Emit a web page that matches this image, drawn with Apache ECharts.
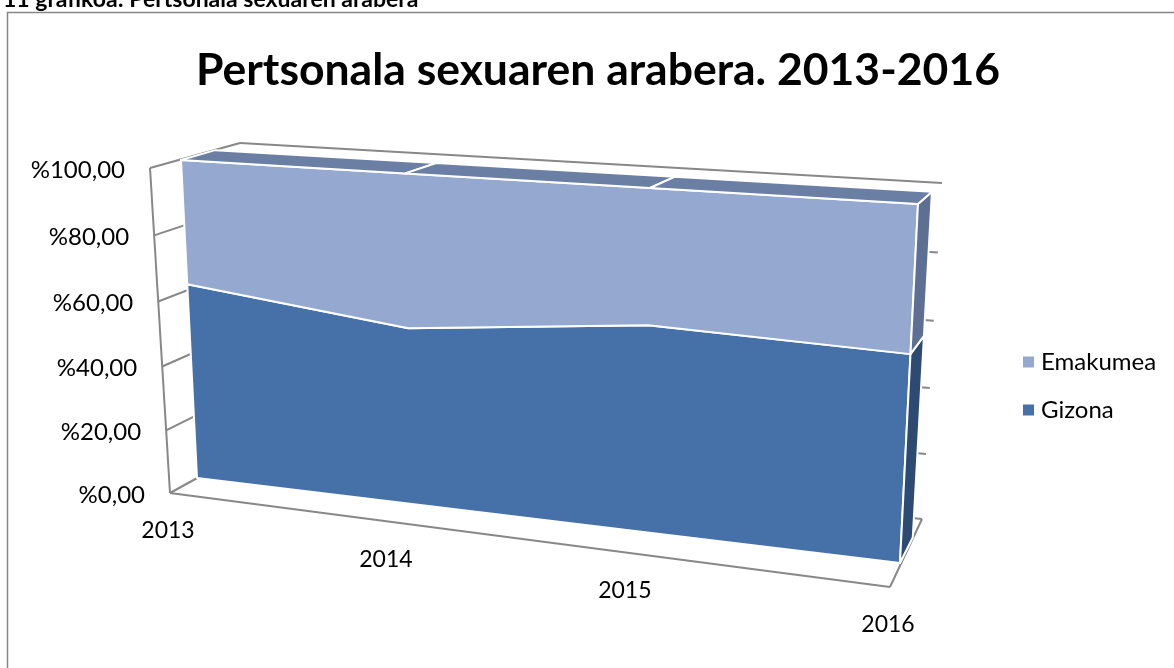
<!DOCTYPE html>
<html>
<head>
<meta charset="utf-8">
<script src="https://cdn.jsdelivr.net/npm/echarts@6/dist/echarts.min.js"></script>
<style>
html, body { margin: 0; padding: 0; background: #fff; }
#main { width: 1174px; height: 668px; }
</style>
</head>
<body>
<div id="main"></div>
<script>
var years = ['2013', '2014', '2015', '2016'];
var gizona = [62.0, 54.3, 61.3, 59.4];
var emakumea = [38.0, 45.7, 38.7, 40.6];
var yTicks = [0, 20, 40, 60, 80, 100];
var yTickLabels = ['%0,00', '%20,00', '%40,00', '%60,00', '%80,00', '%100,00'];

// corners (TL, TR, BR, BL) of the planes of the 3d box, screen px
var wallFront = [[150, 168], [905, 215], [890, 587], [170, 493]];
var faceFront = [[181, 160], [918, 204], [900, 563], [197, 478]];
var wallBack = [[240, 143], [942, 183], [922, 519], [248, 450]];
var faceBack = faceFront.map(function (p, i) {
  return [p[0] + (wallBack[i][0] - p[0]) * 0.58, p[1] + (wallBack[i][1] - p[1]) * 0.58];
});

// unit square -> quad (projective)
function makeProj(q) {
  var x0 = q[0][0], y0 = q[0][1], x1 = q[1][0], y1 = q[1][1];
  var x2 = q[2][0], y2 = q[2][1], x3 = q[3][0], y3 = q[3][1];
  var dx1 = x1 - x2, dx2 = x3 - x2, dx3 = x0 - x1 + x2 - x3;
  var dy1 = y1 - y2, dy2 = y3 - y2, dy3 = y0 - y1 + y2 - y3;
  var den = dx1 * dy2 - dx2 * dy1;
  var g = (dx3 * dy2 - dx2 * dy3) / den;
  var h = (dx1 * dy3 - dx3 * dy1) / den;
  var a = x1 - x0 + g * x1, b = x3 - x0 + h * x3, c = x0;
  var d = y1 - y0 + g * y1, e = y3 - y0 + h * y3, f = y0;
  return function (uv) {
    var w = g * uv[0] + h * uv[1] + 1;
    return [(a * uv[0] + b * uv[1] + c) / w, (d * uv[0] + e * uv[1] + f) / w];
  };
}
var W0 = makeProj(wallFront), W1 = makeProj(wallBack);
var S0 = makeProj(faceFront), S1 = makeProj(faceBack);

var gridLine = { stroke: '#888888', lineWidth: 2 };
var edge = { stroke: '#ffffff', lineWidth: 2, lineJoin: 'round' };

function toUV(params, api, cat, val) {
  var cs = params.coordSys;
  var p = api.coord([cat, val]);
  return [(p[0] - cs.x) / cs.width, (p[1] - cs.y) / cs.height];
}

function seg(a, b) {
  return { type: 'line', shape: { x1: a[0], y1: a[1], x2: b[0], y2: b[1] }, style: gridLine };
}
function poly(pts, color) {
  return { type: 'polygon', shape: { points: pts }, style: Object.assign({ fill: color }, edge) };
}

function renderWalls(params, api) {
  if (params.dataIndex !== 0) return;
  var last = years.length - 1;
  var ch = [];
  var top = toUV(params, api, 0, 100), bot = toUV(params, api, 0, 0);
  var botR = toUV(params, api, last, 0);
  // left wall, floor, back wall
  ch.push(seg(W0(top), W0(bot)));
  yTicks.forEach(function (t) {
    var l = toUV(params, api, 0, t), r = toUV(params, api, last, t);
    ch.push(seg(W0(l), W1(l)));
    ch.push(seg(W1(l), W1(r)));
  });
  ch.push(seg(W0(bot), W0(botR)));
  ch.push(seg(W0(botR), W1(botR)));
  // value labels
  yTicks.forEach(function (t, i) {
    var p = W0(toUV(params, api, 0, t));
    ch.push({ type: 'text', style: { text: yTickLabels[i], x: p[0] - 25, y: p[1] + 2,
      align: 'right', verticalAlign: 'middle', font: '24px Lato', fill: '#000' } });
  });
  // category labels
  years.forEach(function (y, i) {
    var p = W0(toUV(params, api, i, 0));
    ch.push({ type: 'text', style: { text: y, x: p[0] - 2, y: p[1] + 38,
      align: 'center', verticalAlign: 'middle', font: '23px Lato', fill: '#000' } });
  });
  return { type: 'group', children: ch };
}

function makeRender(base, vals, front, side, topColor) {
  return function (params, api) {
    if (params.dataIndex !== 0) return;
    var last = years.length - 1;
    var upper = [], lower = [];
    for (var i = 0; i < years.length; i++) {
      upper.push(toUV(params, api, i, base[i] + vals[i]));
      lower.push(toUV(params, api, i, base[i]));
    }
    var pts = upper.map(S0).concat(lower.slice().reverse().map(S0));
    var ch = [poly(pts, front)];
    ch.push(poly([S0(upper[last]), S0(lower[last]), S1(lower[last]), S1(upper[last])], side));
    if (topColor) {
      for (var k = 0; k < last; k++) {
        ch.push(poly([S0(upper[k]), S0(upper[k + 1]), S1(upper[k + 1]), S1(upper[k])], topColor));
      }
    }
    return { type: 'group', children: ch };
  };
}

var zeros = years.map(function () { return 0; });

var chart = echarts.init(document.getElementById('main'));
chart.setOption({
  animation: false,
  title: {
    text: 'Pertsonala sexuaren arabera. 2013-2016',
    left: 593, top: 43, textAlign: 'center',
    textStyle: { fontFamily: 'Lato', fontSize: 44.5, fontWeight: 'bold', color: '#000' }
  },
  graphic: [
    { type: 'rect', shape: { x: 7.5, y: 12.5, width: 1180, height: 700 },
      style: { fill: 'none', stroke: '#868686', lineWidth: 1.5 }, silent: true },
    { type: 'text', style: { text: '11 grafikoa: Pertsonala sexuaren arabera', x: 3, y: 0,
      verticalAlign: 'middle', font: 'bold 23px Lato', fill: '#000' } }
  ],
  legend: {
    data: ['Emakumea', 'Gizona'],
    orient: 'vertical', left: 1018, top: 345,
    icon: 'rect', itemWidth: 11, itemHeight: 11, itemGap: 24,
    textStyle: { fontFamily: 'Lato', fontSize: 24, color: '#000', padding: [0, 0, 0, 2] }
  },
  grid: { left: 0, top: 0, width: 300, height: 300, show: false },
  xAxis: { type: 'category', data: years, boundaryGap: false, show: false },
  yAxis: { type: 'value', min: 0, max: 100, interval: 20, show: false },
  series: [
    { type: 'custom', name: 'walls', z: 1, clip: false, silent: true,
      data: zeros, renderItem: renderWalls },
    { type: 'custom', name: 'Gizona', z: 2, clip: false,
      itemStyle: { color: '#4571a8' },
      data: gizona, renderItem: makeRender(zeros, gizona, '#4571a8', '#2c4a72', null) },
    { type: 'custom', name: 'Emakumea', z: 3, clip: false,
      itemStyle: { color: '#95a9d0' },
      data: emakumea, renderItem: makeRender(gizona, emakumea, '#95a9d0', '#5d6f93', '#6a7fa3') }
  ]
});
</script>
</body>
</html>
